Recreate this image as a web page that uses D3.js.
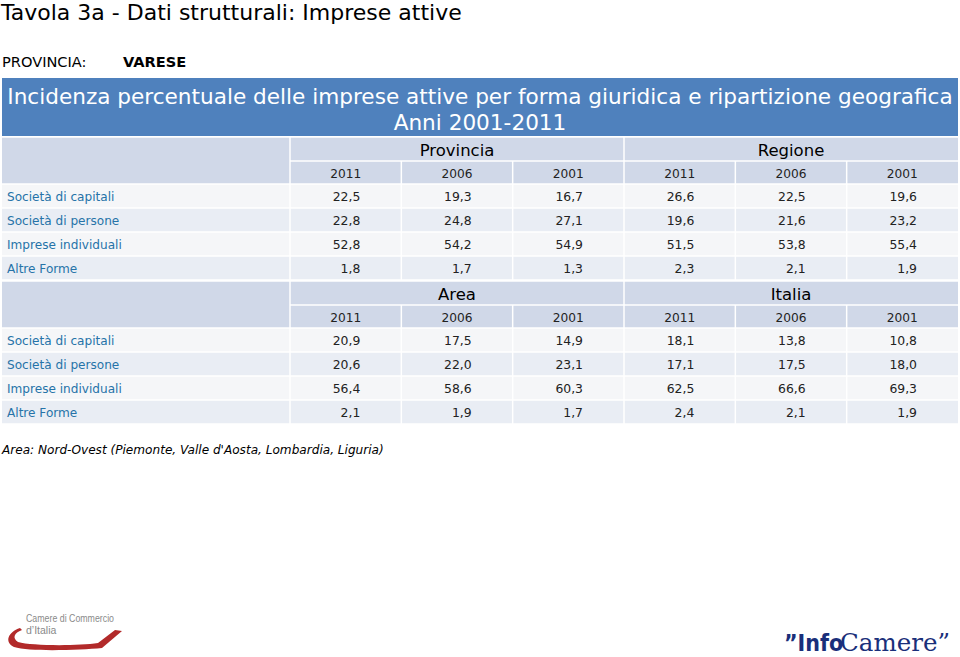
<!DOCTYPE html>
<html><head><meta charset="utf-8">
<script src="https://cdn.jsdelivr.net/npm/d3@7"></script>
<style>body{margin:0;background:#fff}svg{display:block}</style>
</head><body><svg id="c" width="960" height="657"></svg>
<script>
const title = "Tavola 3a - Dati strutturali: Imprese attive";
const provinceLabel = "PROVINCIA:";
const provinceName = "VARESE";
const bandTitle = ["Incidenza percentuale delle imprese attive per forma giuridica e ripartizione geografica", "Anni 2001-2011"];
const categories = ["Società di capitali", "Società di persone", "Imprese individuali", "Altre Forme"];
const years = ["2011", "2006", "2001"];
const groups1 = ["Provincia", "Regione"];
const groups2 = ["Area", "Italia"];
const provincia = [[22.5,19.3,16.7],[22.8,24.8,27.1],[52.8,54.2,54.9],[1.8,1.7,1.3]];
const regione   = [[26.6,22.5,19.6],[19.6,21.6,23.2],[51.5,53.8,55.4],[2.3,2.1,1.9]];
const area      = [[20.9,17.5,14.9],[20.6,22.0,23.1],[56.4,58.6,60.3],[2.1,1.9,1.7]];
const italia    = [[18.1,13.8,10.8],[17.1,17.5,18.0],[62.5,66.6,69.3],[2.4,2.1,1.9]];
const note = "Area: Nord-Ovest (Piemonte, Valle d'Aosta, Lombardia, Liguria)";

const svg = d3.select("#c");
const F = "Verdana, 'DejaVu Sans', sans-serif";
const fmt = v => d3.format(".1f")(v).replace(".", ",");

svg.append("text").attr("x", 1).attr("y", 20).attr("font-family", F).attr("font-size", 22).attr("fill", "#000").text(title);
svg.append("text").attr("x", 2).attr("y", 67).attr("font-family", F).attr("font-size", 14.6).attr("fill", "#000").text(provinceLabel);
svg.append("text").attr("x", 123).attr("y", 67).attr("font-family", F).attr("font-size", 14.6).attr("font-weight", "bold").attr("fill", "#000").text(provinceName);

// blue band
svg.append("rect").attr("x", 2).attr("y", 78).attr("width", 956).attr("height", 58).attr("fill", "#4f81bd");
svg.append("text").attr("x", 480).attr("y", 104).attr("text-anchor", "middle").attr("font-family", F).attr("font-size", 21.6).attr("fill", "#fff").text(bandTitle[0]);
svg.append("text").attr("x", 480).attr("y", 130).attr("text-anchor", "middle").attr("font-family", F).attr("font-size", 21.6).attr("fill", "#fff").text(bandTitle[1]);

// column scale
const colX = d3.scaleLinear().domain([0, 6]).range([290, 958]);
const labelX0 = 2;

function block(y0, groups, dataA, dataB) {
  const g = svg.append("g");
  const hdrH = 24, yrH = 23, rowH = 24;
  g.append("rect").attr("x", labelX0).attr("y", y0).attr("width", 956).attr("height", hdrH + yrH).attr("fill", "#d0d8e8");
  const rowY = d3.scaleLinear().domain([0, 4]).range([y0 + hdrH + yrH, y0 + hdrH + yrH + 4 * rowH]);
  categories.forEach((c, i) => {
    g.append("rect").attr("x", labelX0).attr("y", rowY(i)).attr("width", 956).attr("height", rowH)
      .attr("fill", i % 2 === 0 ? "#f5f6f8" : "#e9edf4");
  });
  const wl = (x1, y1, x2, y2) => g.append("line").attr("x1", x1).attr("y1", y1).attr("x2", x2).attr("y2", y2).attr("stroke", "#fff").attr("stroke-width", 1.5);
  wl(colX(0), y0, colX(0), rowY(4));
  wl(colX(3), y0, colX(3), rowY(4));
  [1, 2, 4, 5].forEach(k => wl(colX(k), y0 + hdrH, colX(k), rowY(4)));
  wl(colX(0), y0 + hdrH, 958, y0 + hdrH);
  for (let i = 0; i <= 4; i++) wl(labelX0, rowY(i), 958, rowY(i));
  wl(labelX0, y0, 958, y0);
  groups.forEach((gName, k) => {
    g.append("text").attr("x", (colX(k * 3) + colX(k * 3 + 3)) / 2).attr("y", y0 + 19)
      .attr("text-anchor", "middle").attr("font-family", F).attr("font-size", 16.5).attr("fill", "#000").text(gName);
  });
  for (let k = 0; k < 6; k++) {
    g.append("text").attr("x", (colX(k) + colX(k + 1)) / 2).attr("y", y0 + hdrH + 17)
      .attr("text-anchor", "middle").attr("font-family", F).attr("font-size", 12.2).attr("fill", "#222").text(years[k % 3]);
  }
  categories.forEach((c, i) => {
    g.append("text").attr("x", 7).attr("y", rowY(i) + 17).attr("font-family", F).attr("font-size", 12.1).attr("fill", "#2673a8").text(c);
    const vals = dataA[i].concat(dataB[i]);
    vals.forEach((v, k) => {
      g.append("text").attr("x", colX(k + 1) - 41).attr("y", rowY(i) + 17).attr("text-anchor", "end")
        .attr("font-family", F).attr("font-size", 12.4).attr("fill", "#222").text(fmt(v));
    });
  });
}
block(137, groups1, provincia, regione);
block(281, groups2, area, italia);

svg.append("text").attr("x", 2).attr("y", 454).attr("font-family", F).attr("font-size", 12.1).attr("font-style", "italic").attr("fill", "#000").text(note);

// logos
const lg = svg.append("g");
const LF = "'Liberation Sans', Arial, sans-serif";
lg.append("text").attr("x", 26).attr("y", 622).attr("font-family", LF).attr("font-size", 10.5).attr("fill", "#8a8a8a").attr("textLength", 88).attr("lengthAdjust", "spacingAndGlyphs").text("Camere di Commercio");
lg.append("text").attr("x", 26).attr("y", 634).attr("font-family", LF).attr("font-size", 10.5).attr("fill", "#8a8a8a").text("d’Italia");
lg.append("path").attr("d", "M20,628 C8,632 4,642 14,647 C30,652 80,650 102,648 L122,631 L115,630 L98,643 C78,646 32,646 18,642 C12,638 14,633 22,630 Z").attr("fill", "#b22a2a");
lg.append("text").attr("x", 784).attr("y", 651).attr("font-family", "'DejaVu Sans Condensed', 'DejaVu Sans', sans-serif").attr("font-weight", "bold").attr("font-size", 23).attr("fill", "#1a2f7a").text("\u201DInfo");
lg.append("text").attr("x", 840).attr("y", 651).attr("font-family", "'DejaVu Serif', 'Liberation Serif', serif").attr("font-size", 25).attr("fill", "#1a2f7a").attr("textLength", 110).attr("lengthAdjust", "spacingAndGlyphs").text("Camere\u201D");
</script></body></html>
